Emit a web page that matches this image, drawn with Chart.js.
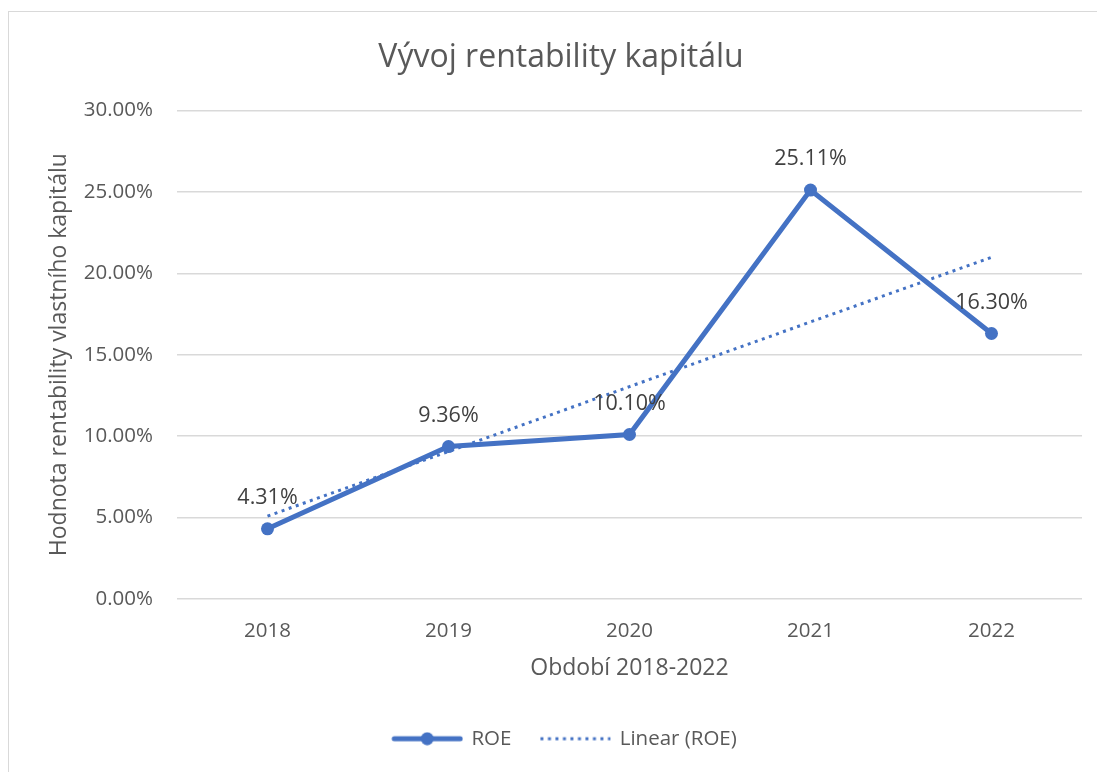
<!DOCTYPE html>
<html>
<head>
<meta charset="utf-8">
<script src="https://cdn.jsdelivr.net/npm/chart.js@4.4.1/dist/chart.umd.min.js"></script>
<style>
  body { margin: 0; background: #fff; }
  #wrap { width: 1097px; height: 772px; }
</style>
</head>
<body>
<div id="wrap"><canvas id="roeChart" width="1097" height="772"></canvas></div>
<script>
const years = ['2018', '2019', '2020', '2021', '2022'];
const roeValues = [4.31, 9.36, 10.10, 25.11, 16.30];
// trend line
const trendValues = [5.09, 9.06, 13.04, 17.01, 20.98];

const blue = '#4472C4';
const textColor = '#595959';
const fontFamily = '"Open Sans", "Noto Sans", sans-serif';

// little pictures for the legend entries (8px blank on the left for spacing)
function legendIcon(dotted) {
  const c = document.createElement('canvas');
  c.width = 80; c.height = 14;
  const g = c.getContext('2d');
  g.strokeStyle = blue;
  g.fillStyle = blue;
  if (dotted) {
    g.lineWidth = 3;
    g.setLineDash([3, 4.5]);
    g.beginPath(); g.moveTo(9, 7); g.lineTo(79, 7); g.stroke();
  } else {
    g.lineWidth = 5;
    g.lineCap = 'round';
    g.beginPath(); g.moveTo(11, 7); g.lineTo(77, 7); g.stroke();
    g.beginPath(); g.arc(44, 7, 6.5, 0, Math.PI * 2); g.fill();
  }
  return c;
}
const legendIcons = [legendIcon(false), legendIcon(true)];

const frame = {
  id: 'frame',
  beforeDraw(chart) {
    const c = chart.ctx;
    c.save();
    c.fillStyle = '#fff';
    c.fillRect(0, 0, chart.width, chart.height);
    c.strokeStyle = '#d9d9d9';
    c.lineWidth = 1;
    c.strokeRect(8.5, 11.5, 1200, 900);
    c.restore();
  }
};

const valueLabels = {
  id: 'valueLabels',
  afterDatasetsDraw(chart) {
    const c = chart.ctx;
    const meta = chart.getDatasetMeta(0);
    c.save();
    c.font = '21.5px ' + fontFamily;
    c.fillStyle = '#404040';
    c.textAlign = 'center';
    c.textBaseline = 'middle';
    meta.data.forEach((pt, i) => {
      c.fillText(roeValues[i].toFixed(2) + '%', pt.x, pt.y - 31);
    });
    c.restore();
  }
};

const ctx = document.getElementById('roeChart').getContext('2d');
const roeChart = new Chart(ctx, {
  type: 'line',
  data: {
    labels: years,
    datasets: [
      {
        label: 'ROE',
        data: roeValues,
        borderColor: blue,
        backgroundColor: blue,
        borderWidth: 5,
        pointStyle: 'circle',
        pointRadius: 6.5,
        pointHoverRadius: 6.5,
        pointBackgroundColor: blue,
        pointBorderWidth: 0,
        tension: 0,
        order: 1
      },
      {
        label: 'Linear (ROE)',
        data: trendValues,
        borderColor: blue,
        borderWidth: 3,
        borderDash: [3, 4.5],
        pointRadius: 0,
        tension: 0,
        order: 0
      }
    ]
  },
  options: {
    responsive: false,
    animation: false,
    layout: { padding: { left: 40, right: 15, top: 0, bottom: 13 } },
    plugins: {
      title: {
        display: true,
        text: 'Vývoj rentability kapitálu',
        color: textColor,
        font: { family: fontFamily, size: 32, weight: 'normal' },
        padding: { top: 39, bottom: 33 }
      },
      legend: {
        position: 'bottom',
        labels: {
          usePointStyle: true,
          pointStyleWidth: 76,
          color: textColor,
          font: { family: fontFamily, size: 20.5 },
          padding: 22,
          generateLabels(chart) {
            return chart.data.datasets.map((ds, i) => ({
              text: ds.label,
              pointStyle: legendIcons[i],
              fontColor: textColor,
              lineWidth: 0,
              strokeStyle: 'transparent',
              fillStyle: 'transparent',
              datasetIndex: i
            }));
          }
        }
      },
      tooltip: { enabled: false }
    },
    scales: {
      x: {
        offset: true,
        afterFit(scale) { scale.height = 107.5; },
        grid: { display: false, drawTicks: false },
        border: { display: false },
        ticks: { color: textColor, font: { family: fontFamily, size: 20.5 }, padding: 20 },
        title: {
          display: true,
          text: 'Období 2018-2022',
          color: textColor,
          font: { family: fontFamily, size: 23 },
          padding: { top: 0, bottom: 24.5 }
        }
      },
      y: {
        min: 0,
        max: 30,
        afterFit(scale) { scale.width = 137; },
        grid: { color: '#d9d9d9', lineWidth: 1.5, drawTicks: false },
        border: { display: false },
        ticks: {
          stepSize: 5,
          padding: 24,
          color: textColor,
          font: { family: fontFamily, size: 20.5 },
          callback: v => v.toFixed(2) + '%'
        },
        title: {
          display: true,
          text: 'Hodnota rentability vlastního kapitálu',
          color: textColor,
          font: { family: fontFamily, size: 23 },
          padding: { top: 6, bottom: 0 }
        }
      }
    }
  },
  plugins: [frame, valueLabels]
});
</script>
</body>
</html>
